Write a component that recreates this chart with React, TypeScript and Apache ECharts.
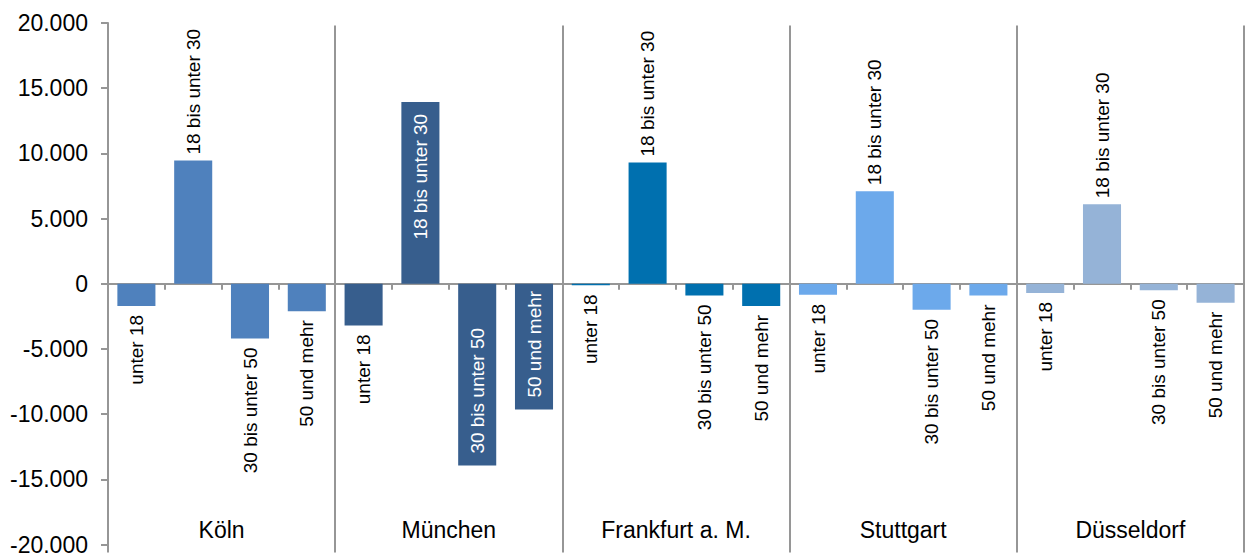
import React, { useEffect, useRef } from 'react';
import * as echarts from 'echarts';

const cities = ['Köln', 'München', 'Frankfurt a. M.', 'Stuttgart', 'Düsseldorf'];
const ageGroups = ['unter 18', '18 bis unter 30', '30 bis unter 50', '50 und mehr'];

const koeln = [-1700, 9450, -4200, -2100];
const muenchen = [-3200, 13950, -13950, -9650];
const frankfurt = [-120, 9300, -900, -1700];
const stuttgart = [-850, 7100, -2000, -900];
const duesseldorf = [-700, 6100, -500, -1450];
const cityValues = [koeln, muenchen, frankfurt, stuttgart, duesseldorf];

const cityColors = ['#4F81BD', '#375E8D', '#0070AF', '#6CA9EB', '#95B3D7'];

// which labels sit inside their bar (white text)
const insideLabels = [
  [false, false, false, false],
  [false, true, true, true],
  [false, false, false, false],
  [false, false, false, false],
  [false, false, false, false],
];

const yMin = -20000;
const yMax = 20000;
const yInterval = 5000;

const FONT = '"Liberation Sans", Arial, sans-serif';
const GRAY = '#969696';

const fmt = (v: number) => {
  const s = Math.abs(v).toString().replace(/\B(?=(\d{3})+(?!\d))/g, '.');
  return (v < 0 ? '-' : '') + s;
};

export default function App() {
  const ref = useRef<HTMLDivElement>(null);

  useEffect(() => {
    if (!ref.current) return;
    const chart = echarts.init(ref.current, undefined, { renderer: 'svg' });

    const categories: string[] = [];
    const data: any[] = [];
    cities.forEach((city, ci) => {
      ageGroups.forEach((ag, ai) => {
        categories.push(city + ' ' + ag);
        const v = cityValues[ci][ai];
        const inside = insideLabels[ci][ai];
        let lab: any;
        if (inside) {
          lab = v >= 0
            ? { position: 'insideTop', align: 'right', color: '#ffffff', distance: 12 }
            : { position: 'insideBottom', align: 'left', color: '#ffffff', distance: 12 };
        } else {
          lab = v >= 0
            ? { position: 'top', align: 'left', color: '#000000', distance: 6 }
            : { position: 'bottom', align: 'right', color: '#000000', distance: 9 };
        }
        data.push({
          value: v,
          itemStyle: { color: cityColors[ci] },
          label: {
            show: true,
            rotate: 90,
            verticalAlign: 'middle',
            fontSize: 19,
            fontFamily: FONT,
            formatter: () => ag,
            ...lab,
          },
        });
      });
    });

    chart.setOption({
      animation: false,
      textStyle: { fontFamily: FONT },
      grid: { left: 108, right: 1, top: 23, bottom: 8, containLabel: false },
      xAxis: [
        {
          type: 'category',
          data: categories,
          position: 'bottom',
          boundaryGap: true,
          axisLine: { show: true, onZero: true, lineStyle: { color: GRAY, width: 2 } },
          axisTick: { show: true, length: 6, interval: 0, lineStyle: { color: GRAY, width: 2 } },
          axisLabel: { show: false },
          splitLine: { show: false },
        },
        {
          type: 'category',
          data: cities,
          position: 'bottom',
          offset: 8,
          boundaryGap: true,
          axisLine: { show: false, onZero: false },
          axisTick: { show: true, inside: true, length: 527, interval: 0, lineStyle: { color: GRAY, width: 2 } },
          axisLabel: { show: true, interval: 0, margin: -34, fontSize: 23, color: '#000000', fontFamily: FONT },
          splitLine: { show: false },
        },
      ],
      yAxis: {
        type: 'value',
        min: yMin,
        max: yMax,
        interval: yInterval,
        axisLine: { show: true, lineStyle: { color: GRAY, width: 2 } },
        axisTick: { show: true, length: 7, lineStyle: { color: GRAY, width: 2 } },
        axisLabel: { formatter: fmt, fontSize: 23, color: '#000000', margin: 20, fontFamily: FONT },
        splitLine: { show: false },
      },
      series: [
        {
          type: 'bar',
          xAxisIndex: 0,
          barCategoryGap: '33%',
          data,
        },
      ],
    });

    return () => chart.dispose();
  }, []);

  return (
    <div
      ref={ref}
      style={{ position: 'fixed', left: 0, top: 0, width: 1245, height: 556, background: '#fff' }}
    />
  );
}
